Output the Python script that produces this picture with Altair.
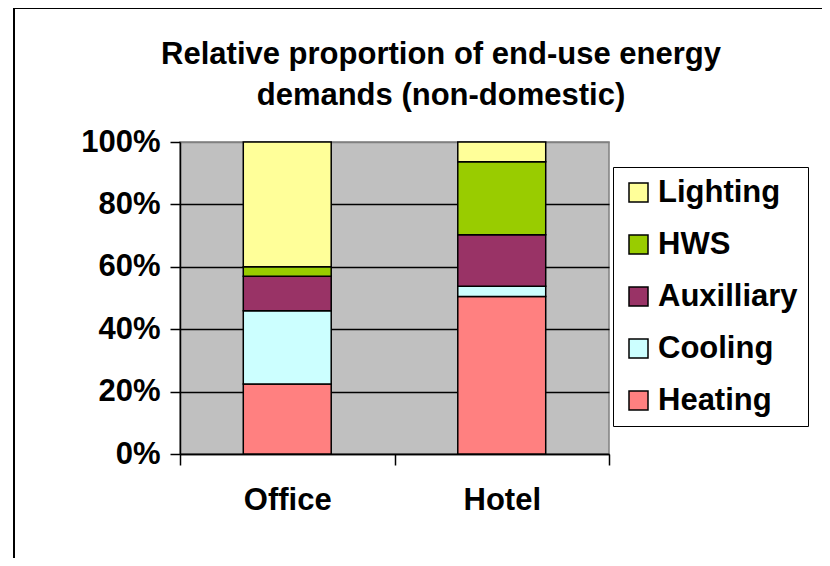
import altair as alt
import pandas as pd

categories = ["Office", "Hotel"]
series = ["Heating", "Cooling", "Auxilliary", "HWS", "Lighting"]
office = [22.4, 23.5, 11.1, 3.0, 40.0]
hotel = [50.5, 3.3, 16.5, 23.4, 6.3]
colors = ["#FF8080", "#CCFFFF", "#993366", "#99CC00", "#FFFF99"]
legend_order = ["Lighting", "HWS", "Auxilliary", "Cooling", "Heating"]
y_ticks = [0, 0.2, 0.4, 0.6, 0.8, 1.0]
title_lines = ["Relative proportion of end-use energy", "demands (non-domestic)"]

rows = []
for cat, vals in zip(categories, [office, hotel]):
    for i, (s, v) in enumerate(zip(series, vals)):
        rows.append({"Building": cat, "Use": s, "Value": v, "Order": i})
df = pd.DataFrame(rows)

FONT = "Liberation Sans"

bars = alt.Chart(df).mark_bar(
    stroke="black", strokeWidth=1.5, width={"band": 0.41}, fillOpacity=1
).encode(
    x=alt.X("Building:N", sort=categories, title=None,
            scale=alt.Scale(paddingInner=0, paddingOuter=0),
            axis=alt.Axis(labelAngle=0, tickBand="extent", tickSize=11,
                          tickColor="black", tickWidth=1.5,
                          domainColor="black", domainWidth=1.5,
                          labelPadding=20, labelFontSize=31, labelFont=FONT,
                          labelFontWeight="bold", labelColor="black")),
    y=alt.Y("Value:Q", stack="normalize", title=None,
            scale=alt.Scale(domain=[0, 1]),
            axis=alt.Axis(format=".0%", values=y_ticks, grid=True,
                          gridColor={"condition": {"test": "datum.value >= 1", "value": "#808080"},
                                     "value": "black"},
                          gridWidth=1.5,
                          tickSize=10, tickColor="black", tickWidth=1.5,
                          domainColor="black", domainWidth=1.5,
                          labelPadding=10, labelFontSize=31, labelFont=FONT,
                          labelFontWeight="bold", labelColor="black")),
    color=alt.Color("Use:N", scale=alt.Scale(domain=series, range=colors),
                    sort=legend_order,
                    legend=alt.Legend(title=None, orient="none", legendX=433, legendY=25,
                                      values=legend_order)),
    order=alt.Order("Order:Q", sort="ascending"),
)

frame_data = alt.Data(values=[{}])
frame_top = alt.Chart(frame_data).mark_rule(color="black", strokeWidth=2).encode(
    x=alt.value(-166), x2=alt.value(642), y=alt.value(-134)
)
frame_left = alt.Chart(frame_data).mark_rule(color="black", strokeWidth=2).encode(
    x=alt.value(-166), y=alt.value(-134), y2=alt.value(416)
)

title_style = dict(font=FONT, fontSize=31, fontWeight="bold", color="black",
                   align="center", baseline="alphabetic")
title1 = alt.Chart(frame_data).mark_text(text=title_lines[0], **title_style).encode(
    x=alt.value(261), y=alt.value(-78)
)
title2 = alt.Chart(frame_data).mark_text(text=title_lines[1], **title_style).encode(
    x=alt.value(261), y=alt.value(-37)
)

chart = alt.layer(bars, frame_top, frame_left, title1, title2).properties(
    width=429,
    height=312,
    background="white",
    autosize=alt.AutoSizeParams(type="none"),
    padding={"left": 172, "top": 134, "right": 213, "bottom": 104},
).configure_view(
    fill="#C0C0C0", stroke="#808080", strokeWidth=1.5
).configure_legend(
    strokeColor="black", fillColor="white", padding=10,
    labelFont=FONT, labelFontSize=31, labelFontWeight="bold", labelColor="black",
    symbolType="square", symbolSize=361, symbolStrokeColor="black",
    symbolStrokeWidth=1.5, symbolOpacity=1, labelOffset=4, rowPadding=20,
    labelLimit=300,
)

chart.save("out.html", embed_options={"renderer": "svg", "actions": False})
